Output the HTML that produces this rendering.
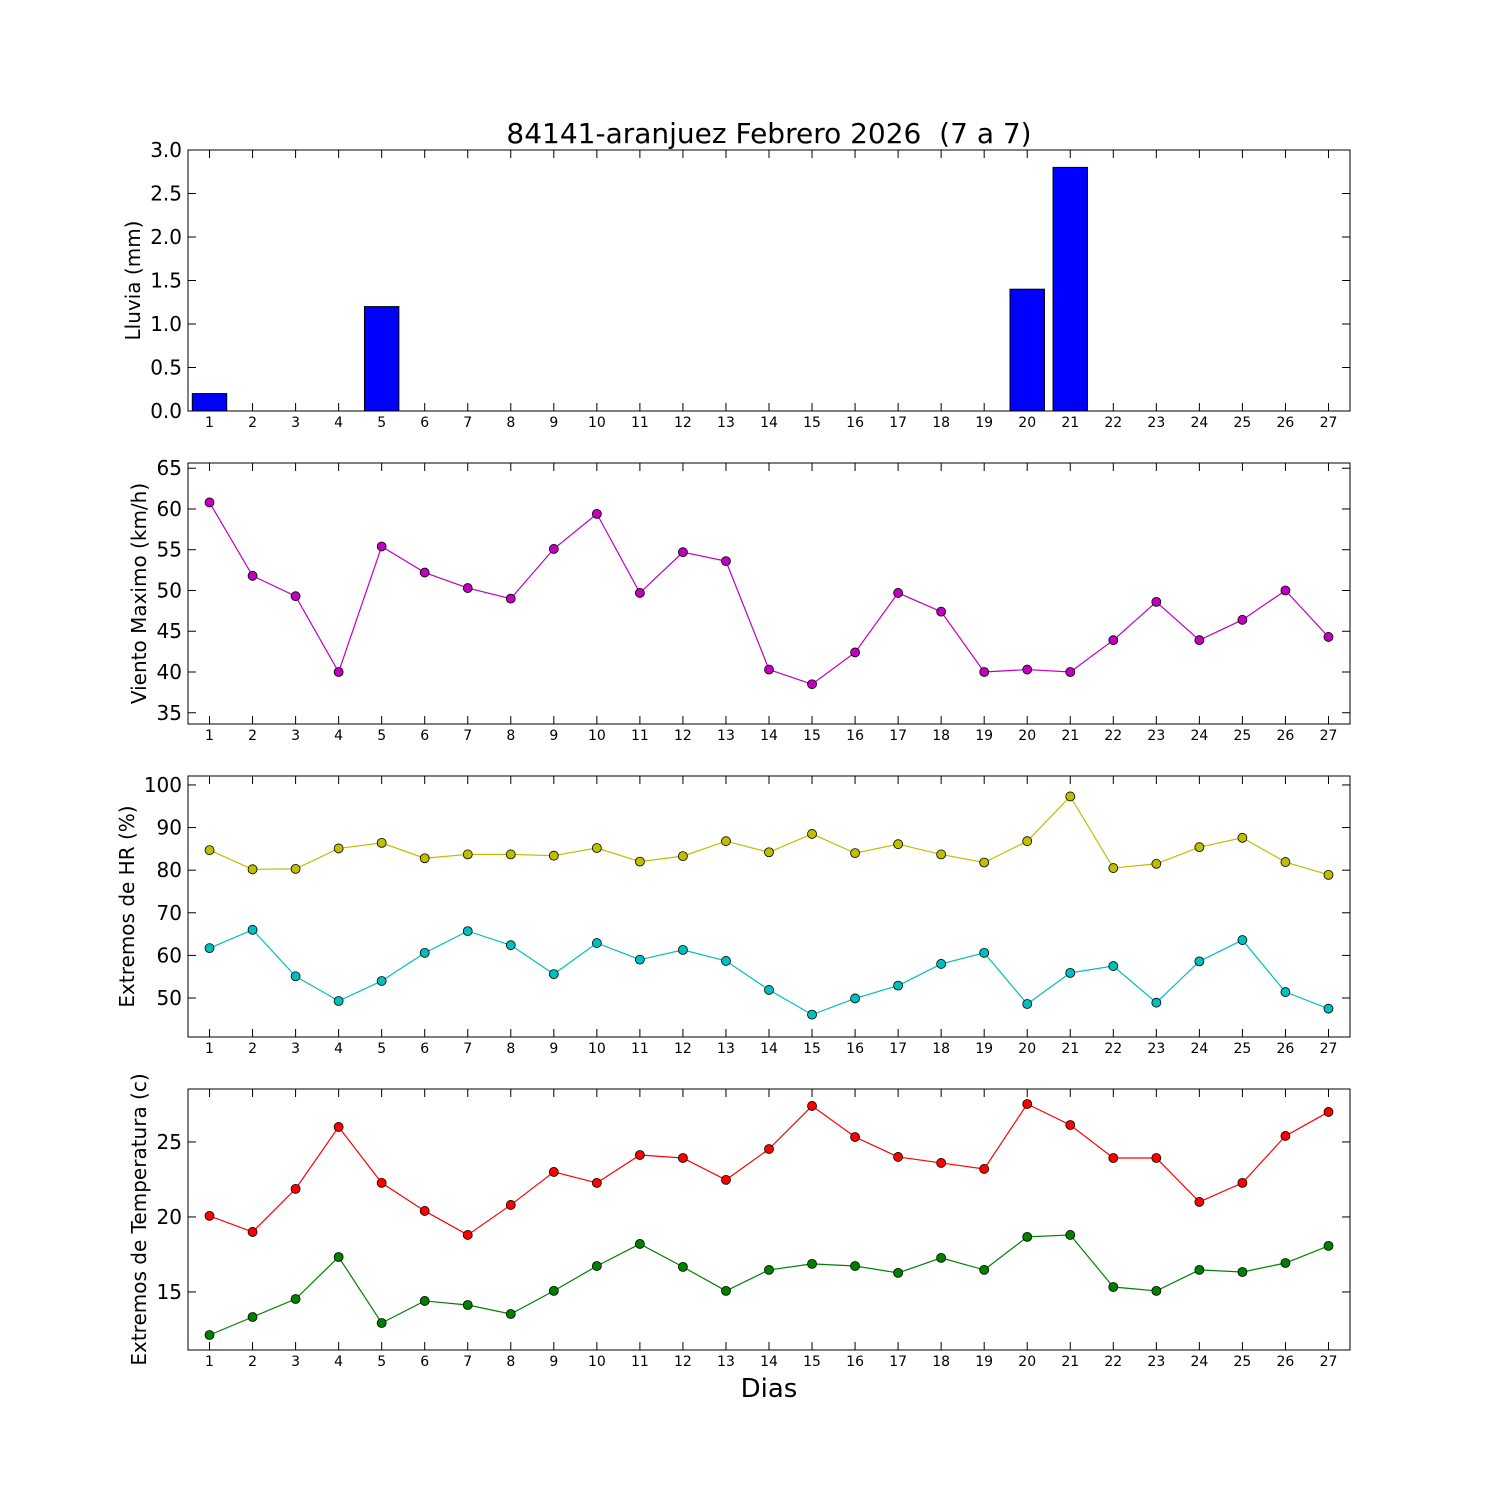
<!DOCTYPE html>
<html><head><meta charset="utf-8"><style>
html,body{margin:0;padding:0;background:#fff}
svg{display:block;font-family:"DejaVu Sans","Liberation Sans",sans-serif}
</style></head><body>
<svg id="chart" width="1500" height="1500" viewBox="0 0 1500 1500">
<rect width="1500" height="1500" fill="#fff"/>
<text x="769" y="143" font-size="28" text-anchor="middle" style="white-space:pre">84141-aranjuez Febrero 2026  (7 a 7)</text>
<text x="769" y="1397" font-size="26" text-anchor="middle">Dias</text>
</svg>
<script>
const days = [1,2,3,4,5,6,7,8,9,10,11,12,13,14,15,16,17,18,19,20,21,22,23,24,25,26,27];
const rain = [0.2,0,0,0,1.2,0,0,0,0,0,0,0,0,0,0,0,0,0,0,1.4,2.8,0,0,0,0,0,0];
const wind = [60.8,51.8,49.3,40,55.4,52.2,50.3,49,55.1,59.4,49.7,54.7,53.6,40.3,38.5,42.4,49.7,47.4,40,40.3,40,43.9,48.6,43.9,46.4,50,44.3];
const hrMax = [84.7,80.2,80.3,85.1,86.4,82.8,83.7,83.7,83.4,85.2,82,83.3,86.8,84.2,88.5,84,86.1,83.7,81.8,86.8,97.3,80.5,81.5,85.4,87.6,81.9,78.9];
const hrMin = [61.7,66,55.1,49.3,54,60.6,65.7,62.4,55.6,62.9,59,61.3,58.7,51.9,46.1,49.9,52.9,58,60.6,48.6,55.9,57.5,48.9,58.6,63.6,51.4,47.5];
const tMax = [20.07,19,21.87,26,22.27,20.4,18.8,20.8,23,22.27,24.13,23.93,22.47,24.53,27.4,25.33,24,23.6,23.2,27.53,26.13,23.93,23.93,21,22.27,25.4,27];
const tMin = [12.13,13.33,14.53,17.33,12.93,14.4,14.13,13.53,15.07,16.73,18.2,16.67,15.07,16.47,16.87,16.73,16.27,17.27,16.47,18.67,18.8,15.33,15.07,16.47,16.33,16.93,18.07];
const rainTicks = ["0.0","0.5","1.0","1.5","2.0","2.5","3.0"];
const windTicks = ["35","40","45","50","55","60","65"];
const hrTicks = ["50","60","70","80","90","100"];
const tTicks = ["15","20","25"];

const NS="http://www.w3.org/2000/svg";
const svg=document.getElementById('chart');
function mk(tag,attrs,parent){const e=document.createElementNS(NS,tag);for(const k in attrs)e.setAttribute(k,attrs[k]);(parent||svg).appendChild(e);return e;}
const L=188,R=1350;
const xS=d=>L+(d-0.5)/27*(R-L);

function panel(name,top,bot,ymin,ymax,ticks,ylabel,labelX){
  const g=mk('g',{});
  
  
  const yS=v=>bot-(v-ymin)/(ymax-ymin)*(bot-top);
  ticks.forEach(t=>{
    const y=yS(parseFloat(t));
    mk('line',{x1:L,x2:L+8,y1:y,y2:y,stroke:'#000'},g);
    mk('line',{x1:R,x2:R-8,y1:y,y2:y,stroke:'#000'},g);
    const tx=mk('text',{x:L-6,y:y+7,'font-size':20,'text-anchor':'end'},g);
    tx.textContent=t;
    
    
  });
  days.forEach(d=>{
    const x=xS(d);
    mk('line',{x1:x,x2:x,y1:bot,y2:bot-8,stroke:'#000'},g);
    mk('line',{x1:x,x2:x,y1:top,y2:top+8,stroke:'#000'},g);
    const tx=mk('text',{x:x,y:bot+16,'font-size':14,'text-anchor':'middle'},g);
    tx.textContent=d;
    
    
  });
  const yl=mk('text',{x:0,y:0,'font-size':20,'text-anchor':'middle',transform:`translate(${labelX},${(top+bot)/2}) rotate(-90)`},g);
  yl.textContent=ylabel;
  
  
  return {g,yS,top,bot};
}
function frame(p){mk('rect',{x:L,y:p.top,width:R-L,height:p.bot-p.top,fill:'none',stroke:'#000','stroke-width':1},p.g);}
function series(p,vals,color,name){
  const pts=vals.map((v,i)=>xS(days[i])+','+p.yS(v)).join(' ');
  const pl=mk('polyline',{points:pts,fill:'none',stroke:color,'stroke-width':1.2},p.g);
  
  
  vals.forEach((v,i)=>{
    const c=mk('circle',{cx:xS(days[i]),cy:p.yS(v),r:4.5,fill:color,stroke:'#000','stroke-width':0.8},p.g);
    
    
  });
}

const p1=panel('rain',150,411,0,3,rainTicks,'Lluvia (mm)',140);
rain.forEach((v,i)=>{
  const x0=xS(days[i]-0.4),x1=xS(days[i]+0.4);
  const b=mk('rect',{x:x0,y:p1.yS(v),width:x1-x0,height:p1.bot-p1.yS(v),fill:'#0000ff',stroke:'#000','stroke-width':1},p1.g);
  
  
});
frame(p1);

const p2=panel('wind',463,724,33.62,65.64,windTicks,'Viento Maximo (km/h)',146);
series(p2,wind,'#bf00bf','wind');frame(p2);

const p3=panel('humidity',776,1037,40.85,102.1,hrTicks,'Extremos de HR (%)',134);
series(p3,hrMax,'#bfbf00','hr-max');series(p3,hrMin,'#00bfbf','hr-min');frame(p3);

const p4=panel('temperature',1089,1350,11.13,28.53,tTicks,'Extremos de Temperatura (c)',146);
series(p4,tMax,'#ff0000','temp-max');series(p4,tMin,'#008000','temp-min');frame(p4);
</script>
</body></html>
